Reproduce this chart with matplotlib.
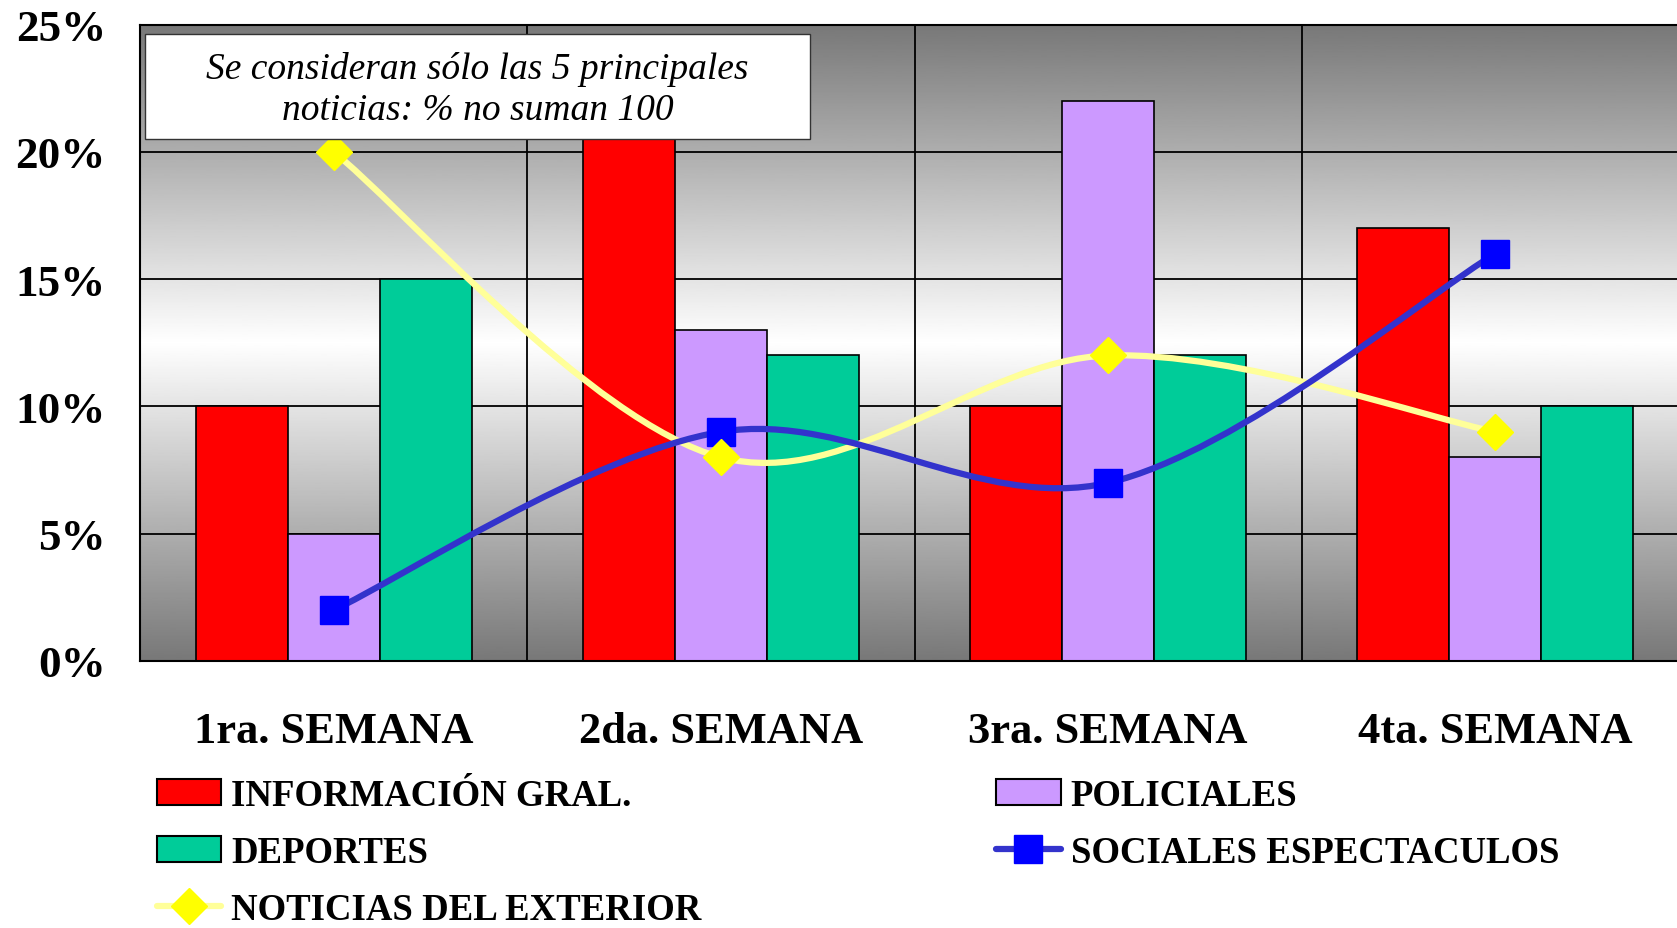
import numpy as np
import matplotlib
matplotlib.use("Agg")
import matplotlib.pyplot as plt
from matplotlib.path import Path
from matplotlib.patches import PathPatch, Rectangle, Patch
from matplotlib.lines import Line2D
from matplotlib.ticker import FuncFormatter

plt.rcParams['font.family'] = ['Liberation Serif', 'DejaVu Serif']

weeks = ["1ra. SEMANA", "2da. SEMANA", "3ra. SEMANA", "4ta. SEMANA"]
info_gral = [10, 21, 10, 17]
policiales = [5, 13, 22, 8]
deportes = [15, 12, 12, 10]
sociales = [2, 9, 7, 16]
exterior = [20, 8, 12, 9]

yticks = [0, 5, 10, 15, 20, 25]
note = "Se consideran sólo las 5 principales\nnoticias: % no suman 100"

W, H = 1677, 929
fig = plt.figure(figsize=(W / 100, H / 100), dpi=100)
ax_l, ax_r, ax_t, ax_b = 140, 1689, 25.5, 662
ax = fig.add_axes([ax_l / W, 1 - ax_b / H, (ax_r - ax_l) / W, (ax_b - ax_t) / H])

ax.set_xlim(-0.5, 3.5)
ax.set_ylim(0, 25)

# background gradient: gray at top and bottom, white in the middle
yy = np.linspace(0, 25, 400)
shade = 1 - 0.53 * np.abs(yy - 12.5) / 12.5
ax.imshow(shade[::-1, None], extent=[-0.5, 3.5, 0, 25], aspect='auto',
          cmap='gray', vmin=0, vmax=1, zorder=0, interpolation='bilinear')

for y in yticks[1:-1]:
    ax.axhline(y, color='black', lw=1.3, zorder=1)
for xb in [0.5, 1.5, 2.5]:
    ax.axvline(xb, color='black', lw=1.3, zorder=1)

x = np.arange(len(weeks))
w = 0.2376
bar_series = [(info_gral, "#FF0000"), (policiales, "#CC99FF"), (deportes, "#00CC99")]
for j, (vals, col) in enumerate(bar_series):
    ax.bar(x + (j - 1) * w, vals, width=w, color=col, edgecolor='black',
           linewidth=1.2, zorder=2)


def smooth_path(xs, ys):
    # Bezier segments through the data points (Excel-like smoothed line)
    pts = np.column_stack([xs, ys]).astype(float)
    n = len(pts)
    verts = [pts[0]]
    codes = [Path.MOVETO]
    for i in range(n - 1):
        p0 = pts[max(i - 1, 0)]
        p1 = pts[i]
        p2 = pts[i + 1]
        p3 = pts[min(i + 2, n - 1)]
        verts += [p1 + (p2 - p0) / 6, p2 - (p3 - p1) / 6, p2]
        codes += [Path.CURVE4] * 3
    return Path(verts, codes)


ax.add_patch(PathPatch(smooth_path(x, exterior), fill=False, edgecolor="#FFFF99",
                       lw=4.5, zorder=3, capstyle='round'))
ax.add_patch(PathPatch(smooth_path(x, sociales), fill=False, edgecolor="#3333CC",
                       lw=4.5, zorder=3, capstyle='round'))
ax.plot(x, sociales, linestyle='none', marker='s', ms=20, color="#0000FF",
        mec="#0000FF", zorder=4)
ax.plot(x, exterior, linestyle='none', marker='D', ms=18, color="#FFFF00",
        mec="#FFFF00", zorder=4)

ax.set_yticks(yticks)
ax.yaxis.set_major_formatter(FuncFormatter(lambda v, p: f"{v:.0f}%"))
ax.set_xticks(x)
ax.set_xticklabels(weeks)
ax.tick_params(axis='y', length=0, pad=24.5, labelsize=32.5)
ax.tick_params(axis='x', length=0, pad=36, labelsize=32)
for lab in ax.get_xticklabels() + ax.get_yticklabels():
    lab.set_fontweight('bold')

for s in ['left', 'bottom', 'top']:
    ax.spines[s].set_linewidth(1.5)
ax.spines['right'].set_visible(False)

# note box
bx0, bx1, by0, by1 = 145, 810, 35, 140
fig.patches.append(Rectangle((bx0 / W, 1 - by1 / H), (bx1 - bx0) / W, (by1 - by0) / H,
                             transform=fig.transFigure, facecolor='white',
                             edgecolor='#333333', lw=1.0, zorder=5))
fig.text((bx0 + bx1) / 2 / W, 1 - 90 / H, note, ha='center', va='center',
         fontsize=27, style='italic', linespacing=1.22, zorder=6)

handles = [
    Patch(facecolor="#FF0000", edgecolor='black', lw=1.5),
    Patch(facecolor="#00CC99", edgecolor='black', lw=1.5),
    Line2D([], [], color="#FFFF99", lw=4.5, marker='D', ms=18, mfc="#FFFF00",
           mec="#FFFF00", solid_capstyle='round'),
    Patch(facecolor="#CC99FF", edgecolor='black', lw=1.5),
    Line2D([], [], color="#3333CC", lw=4.5, marker='s', ms=20, mfc="#0000FF",
           mec="#0000FF", solid_capstyle='round'),
]
labels = ["INFORMACIÓN GRAL.", "DEPORTES", "NOTICIAS DEL EXTERIOR",
          "POLICIALES", "SOCIALES ESPECTACULOS"]
leg = fig.legend(handles, labels, ncol=2, loc='upper left',
                 bbox_to_anchor=(157 / W, 1 - 779 / H), frameon=False,
                 borderpad=0, borderaxespad=0, handlelength=1.75,
                 handletextpad=0.27, columnspacing=8.0, labelspacing=0.6,
                 prop={'weight': 'bold', 'size': 26.5})

fig.savefig("out.png", dpi=100)
